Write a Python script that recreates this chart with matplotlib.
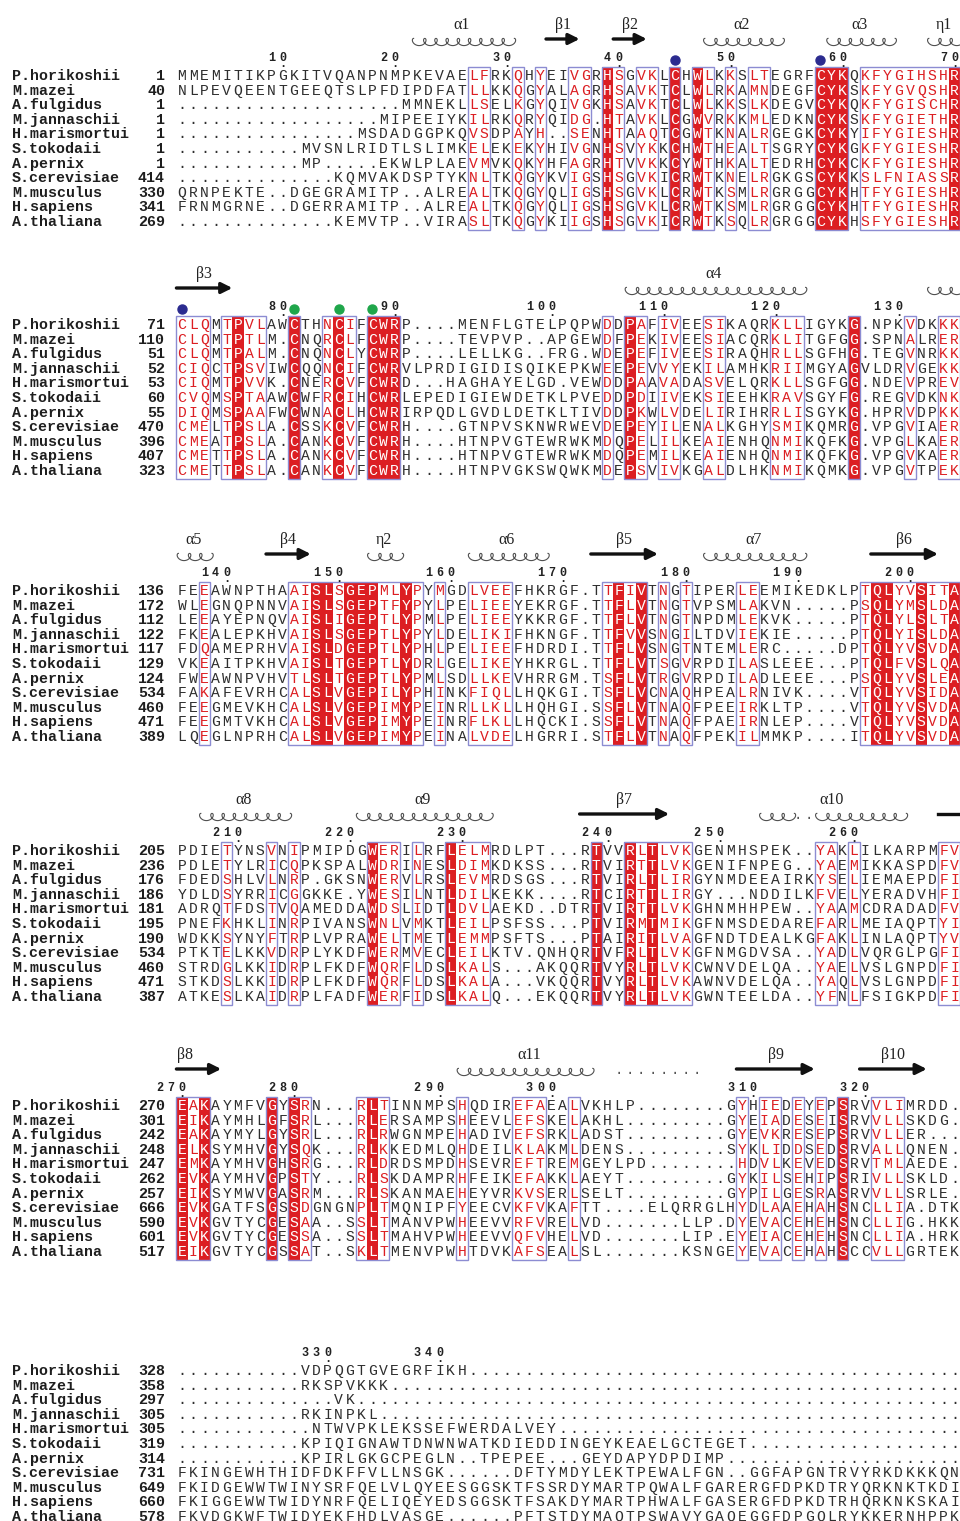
import numpy as np
import matplotlib
matplotlib.use("Agg")
from matplotlib import pyplot as plt
from matplotlib.patches import Rectangle

species = ["P.horikoshii", "M.mazei", "A.fulgidus", "M.jannaschii", "H.marismortui",
           "S.tokodaii", "A.pernix", "S.cerevisiae", "M.musculus", "H.sapiens", "A.thaliana"]

# ---- block 1 ----
start1 = [1, 40, 1, 1, 1, 1, 1, 414, 330, 341, 269]
seq1 = [
    "MMEMITIKPGKITVQANPNMPKEVAELFRKQHYEIVGRHSGVKLCHWLKKSLTEGRFCYKQKFYGIHSHR",
    "NLPEVQEENTGEEQTSLPFDIPDFATLLKKQGYALAGRHSAVKTCLWLRKAMNDEGFCYKSKFYGVQSHR",
    "....................MMNEKLLSELKGYQIVGKHSAVKTCLWLKKSLKDEGVCYKQKFYGISCHR",
    "..................MIPEEIYKILRKQRYQIDG.HTAVKLCGWVRKKMLEDKNCYKSKFYGIETHR",
    "................MSDADGGPKQVSDPAYH..SENHTAAQTCGWTKNALRGEGKCYKYIFYGIESHR",
    "...........MVSNLRIDTLSLIMKELEKEKYHIVGNHSVYKKCHWTHEALTSGRYCYKGKFYGIESHR",
    "...........MP.....EKWLPLAEVMVKQKYHFAGRHTVVKKCYWTHKALTEDRHCYKCKFYGIESHR",
    "..............KQMVAKDSPTYKNLTKQGYKVIGSHSGVKICRWTKNELRGKGSCYKKSLFNIASSR",
    "QRNPEKTE..DGEGRAMITP..ALREALTKQGYQLIGSHSGVKLCRWTKSMLRGRGGCYKHTFYGIESHR",
    "FRNMGRNE..DGERRAMITP..ALREALTKQGYQLIGSHSGVKLCRWTKSMLRGRGGCYKHTFYGIESHR",
    "..............KEMVTP..VIRASLTKQGYKIIGSHSGVKICRWTKSQLRGRGGCYKHSFYGIESHR",
]
boxes1 = [(27, 28), (31, 31), (33, 33), (36, 37), (39, 40), (42, 43), (45, 45),
          (47, 48), (50, 50), (52, 53), (58, 60), (62, 70)]
ss1 = [("helix", "\u03b11", 22, 30), ("strand", "\u03b21", 34, 36), ("strand", "\u03b22", 40, 42),
       ("helix", "\u03b12", 48, 54), ("helix", "\u03b13", 59, 64), ("helix", "\u03b71", 68, 70)]
marks1 = [(45, "#2b2b8f"), (58, "#2b2b8f")]

# ---- block 2 ----
start2 = [71, 110, 51, 52, 53, 60, 55, 470, 396, 407, 323]
seq2 = [
    "CLQMTPVLAWCTHNCIFCWRP....MENFLGTELPQPWDDPAFIVEESIKAQRKLLIGYKG.NPKVDKKK",
    "CLQMTPTLM.CNQRCLFCWRP....TEVPVP..APGEWDFPEKIVEESIACQRKLITGFGG.SPNALRER",
    "CLQMTPALM.CNQNCLYCWRP....LELLKG..FRG.WDEPEFIVEESIRAQHRLLSGFHG.TEGVNRKK",
    "CIQCTPSVIWCQQNCIFCWRVLPRDIGIDISQIKEPKWEEPEVVYEKILAMHKRIIMGYAGVLDRVGEKK",
    "CIQMTPVVK.CNERCVFCWRD...HAGHAYELGD.VEWDDPAAVADASVELQRKLLSGFGG.NDEVPREV",
    "CVQMSPTAAWCWFRCIHCWRLEPEDIGIEWDETKLPVEDDPDIIVEKSIEEHKRAVSGYFG.REGVDKNK",
    "DIQMSPAAFWCWNACLHCWRIRPQDLGVDLDETKLTIVDDPKWLVDELIRIHRRLISGYKG.HPRVDPKK",
    "CMELTPSLA.CSSKCVFCWRH....GTNPVSKNWRWEVDEPEYILENALKGHYSMIKQMRG.VPGVIAER",
    "CMEATPSLA.CANKCVFCWRH....HTNPVGTEWRWKMDQPELILKEAIENHQNMIKQFKG.VPGLKAER",
    "CMETTPSLA.CANKCVFCWRH....HTNPVGTEWRWKMDQPEMILKEAIENHQNMIKQFKG.VPGVKAER",
    "CMETTPSLA.CANKCVFCWRH....HTNPVGKSWQWKMDEPSVIVKGALDLHKNMIKQMKG.VPGVTPEK",
]
boxes2 = [(1, 3), (5, 8), (11, 11), (14, 16), (18, 20), (39, 39), (41, 42), (44, 45),
          (48, 49), (54, 56), (61, 61), (66, 66), (69, 70)]
ss2 = [("strand", "\u03b23", 1, 5), ("helix", "\u03b14", 41, 56), ("helix", "", 68, 70)]
marks2 = [(1, "#2b2b8f"), (11, "#1fa64a"), (15, "#1fa64a"), (18, "#1fa64a")]

# ---- block 3 ----
start3 = [136, 172, 112, 122, 117, 129, 124, 534, 460, 471, 389]
seq3 = [
    "FEEAWNPTHAAISLSGEPMLYPYMGDLVEEFHKRGF.TTFIVTNGTIPERLEEMIKEDKLPTQLYVSITA",
    "WLEGNQPNNVAISLSGEPTFYPYLPELIEEYEKRGF.TTFLVTNGTVPSMLAKVN.....PSQLYMSLDA",
    "LEEAYEPNQVAISLIGEPTLYPMLPELIEEYKKRGF.TTFLVTNGTNPDMLEKVK.....PTQLYLSLTA",
    "FKEALEPKHVAISLSGEPTLYPYLDELIKIFHKNGF.TTFVVSNGILTDVIEKIE.....PTQLYISLDA",
    "FDQAMEPRHVAISLDGEPTLYPHLPELIEEFHDRDI.TTFLVSNGTNTEMLERC.....DPTQLYVSVDA",
    "VKEAITPKHVAISLTGEPTLYDRLGELIKEYHKRGL.TTFLVTSGVRPDILASLEEE...PTQLFVSLQA",
    "FWEAWNPVHVTLSLTGEPTLYPMLSDLLKEVHRRGM.TSFLVTRGVRPDILADLEEE...PSQLYVSLEA",
    "FAKAFEVRHCALSLVGEPILYPHINKFIQLLHQKGI.TSFLVCNAQHPEALRNIVK....VTQLYVSIDA",
    "FEEGMEVKHCALSLVGEPIMYPEINRLLKLLHQHGI.SSFLVTNAQFPEEIRKLTP....VTQLYVSVDA",
    "FEEGMTVKHCALSLVGEPIMYPEINRFLKLLHQCKI.SSFLVTNAQFPAEIRNLEP....VTQLYVSVDA",
    "LQEGLNPRHCALSLVGEPIMYPEINALVDELHGRRI.STFLVTNAQFPEKILMMKP....ITQLYVSVDA",
]
boxes3 = [(3, 3), (11, 22), (24, 24), (27, 30), (39, 42), (44, 44), (46, 46), (51, 52), (62, 70)]
ss3 = [("helix", "\u03b15", 1, 3), ("strand", "\u03b24", 9, 12), ("helix", "\u03b72", 18, 20),
       ("helix", "\u03b16", 27, 33), ("strand", "\u03b25", 38, 43), ("helix", "\u03b17", 48, 56),
       ("strand", "\u03b26", 63, 68)]
marks3 = []

# ---- block 4 ----
start4 = [205, 236, 176, 186, 181, 195, 190, 534, 460, 471, 387]
seq4 = [
    "PDIETYNSVNIPMIPDGWERILRFLELMRDLPT...RTVVRLTLVKGENMHSPEK..YAKLILKARPMFV",
    "PDLETYLRICQPKSPALWDRINESLDIMKDKSS...RTVIRTTLVKGENIFNPEG..YAEMIKKASPDFV",
    "FDEDSHLVLNRP.GKSNWERVLRSLEVMRDSGS...RTVIRLTLIRGYNMDEEAIRKYSELIEMAEPDFI",
    "YDLDSYRRICGGKKE.YWESILNTLDILKEKK....RTCIRTTLIRGY...NDDILKFVELYERADVHFI",
    "ADRQTFDSTVQAMEDDAWDSLIDTLDVLAEKD..DTRTVIRTTLVKGHNMHHPEW..YAAMCDRADADFV",
    "PNEFKHKLINRPIVANSWNLVMKTLEILPSFSS...PTVIRMTMIKGFNMSDEDAREFARLMEIAQPTYI",
    "WDKKSYNYFTRPLVPRAWELTMETLEMMPSFTS...PTAIRITLVAGFNDTDEALKGFAKLINLAQPTYV",
    "PTKTELKKVDRPLYKDFWERMVECLEILKTV.QNHQRTVFRLTLVKGFNMGDVSA..YADLVQRGLPGFI",
    "STRDGLKKIDRPLFKDFWQRFLDSLKALS...AKQQRTVYRLTLVKCWNVDELQA..YAELVSLGNPDFI",
    "STKDSLKKIDRPLFKDFWQRFLDSLKALA...VKQQRTVYRLTLVKAWNVDELQA..YAQLVSLGNPDFI",
    "ATKESLKAIDRPLFADFWERFIDSLKALQ...EKQQRTVYRLTLVKGWNTEELDA..YFNLFSIGKPDFI",
]
boxes4 = [(5, 5), (9, 9), (11, 11), (18, 20), (22, 22), (25, 28), (38, 38), (41, 46),
          (58, 59), (61, 61), (69, 70)]
ss4 = [("helix", "\u03b18", 3, 10), ("helix", "\u03b19", 17, 28), ("strand", "\u03b27", 37, 44),
       ("helix", "", 53, 55), ("dots", "", 56, 57), ("helix", "", 58, 65),
       ("label", "\u03b110", 53, 65), ("line", "", 69, 70)]
marks4 = []

# ---- block 5 ----
start5 = [270, 301, 242, 248, 247, 262, 257, 666, 590, 601, 517]
seq5 = [
    "EAKAYMFVGYSRN...RLTINNMPSHQDIREFAEALVKHLP........GYHIEDEYEPSRVVLIMRDD.",
    "EIKAYMHLGFSRL...RLERSAMPSHEEVLEFSKELAKHL.........GYEIADESEISRVVLLSKDG.",
    "EAKAYMYLGYSRL...RLRWGNMPEHADIVEFSRKLADST.........GYEVKRESEPSRVVLLER...",
    "ELKSYMHVGYSQK...RLKKEDMLQHDEILKLAKMLDENS.........SYKLIDDSEDSRVALLQNEN.",
    "EMKAYMHVGHSRG...RLDRDSMPDHSEVREFTREMGEYLPD........HDVLKEVEDSRVTMLAEDE.",
    "EVKAYMHVGPSTY...RLSKDAMPRHFEIKEFAKKLAEYT.........GYKILSEHIPSRIVLLSKLD.",
    "EIKSYMWVGASRM...RLSKANMAEHEYVRKVSERLSELT.........GYPILGESRASRVVLLSRLE.",
    "EVKGATFSGSSDGNGNPLTMQNIPFYEECVKFVKAFTT....ELQRRGLHYDLAAEHAHSNCLLIA.DTK",
    "EVKGVTYCGESAA..SSLTMANVPWHEEVVRFVRELVD.......LLP.DYEVACEHEHSNCLLIG.HKK",
    "EVKGVTYCGESSA..SSLTMAHVPWHEEVVQFVHELVD.......LIP.EYEIACEHEHSNCLLIA.HRK",
    "EIKGVTYCGSSAT..SKLTMENVPWHTDVKAFSEALSL.......KSNGEYEVACEHAHSCCVLLGRTEK",
]
boxes5 = [(1, 3), (9, 9), (11, 12), (17, 19), (26, 26), (31, 33), (36, 36), (51, 51),
          (53, 54), (56, 56), (58, 58), (60, 60), (63, 65)]
ss5 = [("strand", "\u03b28", 1, 4), ("helix", "", 26, 26), ("helix", "\u03b111", 27, 37),
       ("dots", "", 40, 47), ("strand", "\u03b29", 51, 57), ("strand", "\u03b210", 62, 67)]
marks5 = []

# ---- block 6 ----
start6 = [328, 358, 297, 305, 305, 319, 314, 731, 649, 660, 578]
seq6 = [
    "...........VDPQGTGVEGRFIKH............................................",
    "...........RKSPVKKK...................................................",
    "..............VK......................................................",
    "...........RKINPKL....................................................",
    "............NTWVPKLEKSSEFWERDALVEY....................................",
    "...........KPIQIGNAWTDNWNWATKDIEDDINGEYKEAELGCTEGET...................",
    "...........KPIRLGKGCPEGLN..TPEPEE...GEYDAPYDPDIMP.....................",
    "FKINGEWHTHIDFDKFFVLLNSGK......DFTYMDYLEKTPEWALFGN..GGFAPGNTRVYRKDKKKQN",
    "FKIDGEWWTWINYSRFQELVLQYEESGGSKTFSSRDYMARTPQWALFGARERGFDPKDTRYQRKNKTKDI",
    "FKIGGEWWTWIDYNRFQELIQEYEDSGGSKTFSAKDYMARTPHWALFGASERGFDPKDTRHQRKNKSKAI",
    "FKVDGKWFTWIDYEKFHDLVASGE......PFTSTDYMAQTPSWAVYGAQEGGFDPGQLRYKKERNHPPK",
]
boxes6 = []
ss6 = []
marks6 = []

blocks = [
    (start1, seq1, boxes1, ss1, marks1, 75),
    (start2, seq2, boxes2, ss2, marks2, 324),
    (start3, seq3, boxes3, ss3, marks3, 590),
    (start4, seq4, boxes4, ss4, marks4, 850),
    (start5, seq5, boxes5, ss5, marks5, 1105),
    (start6, seq6, boxes6, ss6, marks6, 1370),
]

RED = "#dc1e22"
BOXC = "#8c8cd2"
GREY = "#2e2e2e"
MONO = "Liberation Mono"
SERIF = "Liberation Serif"

X0 = 182.0      # centre of first alignment column (px)
CW = 11.2       # column width (px)
RH = 14.6       # row height (px)


def colx(c):
    return X0 + (c - 1) * CW


def draw_helix(ax, c0, c1, y):
    n = c1 - c0 + 1
    xa = colx(c0) - CW / 2
    xb = colx(c1) + CW / 2
    t = np.linspace(0, 2 * np.pi * n, 80 * n)
    a = (xb - xa) / (2 * np.pi * n)
    x = xa + a * t - 3.6 * np.sin(t) + 2.0
    yy = y - 3.6 * np.cos(t)
    ax.plot(x, yy, color="#505050", lw=0.8)


def draw_strand(ax, c0, c1, y):
    xa = colx(c0) - CW / 2
    xb = colx(c1) + CW / 2
    ax.annotate("", xy=(xb, y), xytext=(xa, y),
                arrowprops=dict(arrowstyle="-|>", lw=2.4, color="#111111",
                                mutation_scale=16, shrinkA=0, shrinkB=0))


fig = plt.figure(figsize=(9.6, 15.21), dpi=100)
ax = fig.add_axes([0, 0, 1, 1])
ax.set_xlim(0, 960)
ax.set_ylim(1521, 0)
ax.axis("off")

for starts, seqs, boxes, ss, marks, y0 in blocks:
    nrow = len(seqs)
    ncol = len(seqs[0])
    ys = y0 + np.arange(nrow) * RH
    top = y0 - 8
    bot = ys[-1] + 9

    # identical columns -> red fill
    ident = []
    for c in range(ncol):
        col = [s[c] for s in seqs]
        if col[0] != "." and all(ch == col[0] for ch in col):
            ident.append(c + 1)
    for c in ident:
        ax.add_patch(Rectangle((colx(c) - CW / 2, top), CW, bot - top,
                               facecolor=RED, edgecolor="none", zorder=1))
    similar = set()
    for b0, b1 in boxes:
        similar.update(range(b0, b1 + 1))
        ax.add_patch(Rectangle((colx(b0) - CW / 2, top), (b1 - b0 + 1) * CW, bot - top,
                               facecolor="none", edgecolor=BOXC, lw=1.0, zorder=3))

    # names and start numbers
    for i in range(nrow):
        ax.text(12, ys[i] + 5, species[i], fontsize=10.8, family=MONO,
                fontweight="bold", color="#1e1e1e", va="baseline", ha="left")
        ax.text(165, ys[i] + 5, str(starts[i]), fontsize=10.8, family=MONO,
                fontweight="bold", color="#1e1e1e", va="baseline", ha="right")

    # residues
    for i, s in enumerate(seqs):
        for c, ch in enumerate(s, start=1):
            if c in ident:
                col = "white"
            elif c in similar and ch != ".":
                col = RED
            else:
                col = GREY
            ax.text(colx(c), ys[i] + 5, ch, fontsize=10.6, family=MONO,
                    color=col, va="baseline", ha="center", zorder=4)

    # ruler from the first sequence numbering
    num = starts[0] - 1
    for c, ch in enumerate(seqs[0], start=1):
        if ch == ".":
            continue
        num += 1
        if num % 10 == 0:
            digits = str(num)
            for k, d in enumerate(digits):
                ax.text(colx(c - (len(digits) - 1 - k)), y0 - 14, d, fontsize=8.5,
                        family=MONO, fontweight="bold", color="#222222",
                        ha="center", va="baseline")
            ax.text(colx(c), y0 - 8, ".", fontsize=8.5, family=MONO,
                    fontweight="bold", color="#222222", ha="center", va="baseline")

    for c, colr in marks:
        ax.plot(colx(c), y0 - 15, "o", ms=6.5, color=colr, zorder=5)

    # secondary structure
    for kind, lab, c0, c1 in ss:
        ysec = y0 - 34
        if kind == "helix":
            draw_helix(ax, c0, c1, ysec + 1)
        elif kind == "strand":
            draw_strand(ax, c0, c1, ysec - 2)
        elif kind == "line":
            ax.plot([colx(c0) - CW / 2, colx(c1) + CW / 2], [ysec - 2, ysec - 2],
                    color="#111111", lw=2.4)
        elif kind == "dots":
            for c in range(c0, c1 + 1):
                ax.text(colx(c), ysec + 3, ".", fontsize=10, family=MONO,
                        color="#555555", ha="center", va="baseline")
        if lab:
            xm = (colx(c0) + colx(c1)) / 2
            if kind == "strand" and lab == "\u03b28":
                xm = colx(c0) + 3
            ax.text(xm, y0 - 46, lab, fontsize=11.5, family=SERIF,
                    color="#222222", ha="center", va="baseline")

fig.savefig("out.png", dpi=100)
